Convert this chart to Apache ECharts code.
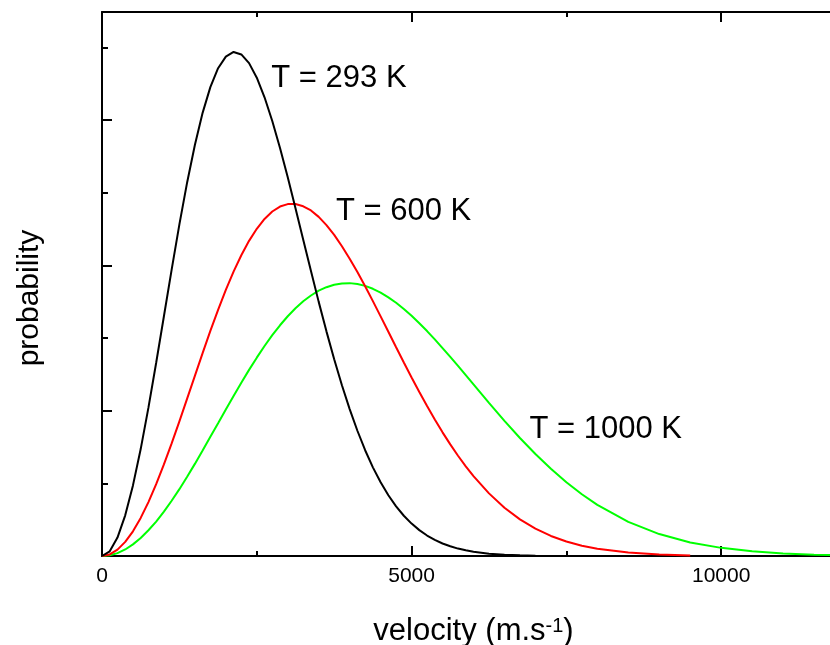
<!DOCTYPE html>
<html>
<head>
<meta charset="utf-8">
<script src="https://cdn.jsdelivr.net/npm/echarts@6/dist/echarts.min.js"></script>
<style>
  html, body { margin: 0; padding: 0; background: #ffffff; }
  #chart { width: 830px; height: 645px; }
</style>
</head>
<body>
<div id="chart"></div>
<script>
// Molecular speed distributions at three temperatures (arbitrary probability units)
const velocity = [
  0, 125, 250, 375, 500, 625, 750, 875, 1000, 1125, 1250, 1375, 1500, 1625, 1750, 1875,
  2000, 2125, 2250, 2375, 2500, 2625, 2750, 2875, 3000, 3125, 3250, 3375, 3500, 3625, 3750, 3875,
  4000, 4125, 4250, 4375, 4500, 4625, 4750, 4875, 5000, 5125, 5250, 5375, 5500, 5625, 5750, 5875,
  6000, 6250, 6500, 6750, 7000, 7250, 7500, 7750, 8000,
  8500, 9000, 9500, 10000, 10500, 11000, 11500, 12000
];
const prob293 = [
  0, 0.032, 0.127, 0.280, 0.486, 0.736, 1.021, 1.330, 1.650, 1.971, 2.282, 2.571, 2.829, 3.050, 3.227, 3.357,
  3.437, 3.469, 3.452, 3.392, 3.292, 3.157, 2.994, 2.808, 2.606, 2.394, 2.177, 1.961, 1.749, 1.546, 1.354, 1.175,
  1.011, 0.862, 0.728, 0.610, 0.507, 0.418, 0.342, 0.277, 0.223, 0.178, 0.141, 0.111, 0.086, 0.067, 0.051, 0.039,
  0.029, 0.016, 0.009, 0.005, 0.002
];
const prob600 = [
  0, 0.011, 0.044, 0.097, 0.170, 0.262, 0.371, 0.494, 0.630, 0.775, 0.927, 1.083, 1.240, 1.396, 1.549, 1.694,
  1.831, 1.957, 2.070, 2.169, 2.252, 2.320, 2.371, 2.405, 2.422, 2.422, 2.407, 2.378, 2.334, 2.277, 2.210, 2.132,
  2.046, 1.954, 1.856, 1.754, 1.649, 1.543, 1.437, 1.332, 1.229, 1.129, 1.032, 0.940, 0.851, 0.768, 0.690, 0.617,
  0.550, 0.431, 0.332, 0.252, 0.188, 0.138, 0.100, 0.071, 0.050,
  0.024, 0.010, 0.004
];
const prob1000 = [
  0, 0.005, 0.020, 0.045, 0.080, 0.124, 0.177, 0.237, 0.305, 0.380, 0.460, 0.545, 0.634, 0.726, 0.820, 0.914,
  1.009, 1.102, 1.193, 1.281, 1.365, 1.445, 1.520, 1.588, 1.650, 1.705, 1.753, 1.793, 1.826, 1.850, 1.867, 1.876,
  1.878, 1.872, 1.859, 1.839, 1.813, 1.780, 1.743, 1.700, 1.653, 1.602, 1.548, 1.491, 1.431, 1.370, 1.308, 1.245,
  1.181, 1.054, 0.930, 0.812, 0.702, 0.600, 0.508, 0.425, 0.352,
  0.235, 0.151, 0.093, 0.056, 0.032, 0.018, 0.009, 0.005
];
const curveNames = ['T = 293 K', 'T = 600 K', 'T = 1000 K'];
// where each temperature tag starts, in data units [velocity, probability]
const tagAnchors = [[2734, 3.290], [3779, 2.374], [6904, 0.870]];

const FONT = "'Liberation Sans', Arial, Helvetica, sans-serif";
const X_MIN = 0, X_MAX = 12000;
const Y_MIN = 0, Y_MAX = 3.744;

function pairs(values) {
  return values.map((p, i) => [velocity[i], p]);
}

function xLayer(position, interval, tickLen, withLine, withLabels, extra) {
  return Object.assign({
    type: 'value', position: position, min: X_MIN, max: X_MAX, interval: interval,
    axisLine: { show: withLine, onZero: false, lineStyle: { color: '#000', width: 2 } },
    axisTick: { show: true, inside: true, length: tickLen, lineStyle: { color: '#000', width: 2 } },
    axisLabel: withLabels
      ? { show: true, fontSize: 21, color: '#000', fontFamily: FONT, margin: 10,
          showMaxLabel: false, formatter: (v) => String(v) }
      : { show: false },
    splitLine: { show: false }
  }, extra || {});
}

function yLayer(interval, tickLen, withLine, extra) {
  return Object.assign({
    type: 'value', position: 'left', min: Y_MIN, max: Y_MAX, interval: interval,
    axisLine: { show: withLine, onZero: false, lineStyle: { color: '#000', width: 2 } },
    axisTick: { show: true, inside: true, length: tickLen, lineStyle: { color: '#000', width: 2 } },
    axisLabel: { show: false },
    splitLine: { show: false }
  }, extra || {});
}

function curve(name, values, color) {
  return {
    name: name,
    type: 'line',
    xAxisIndex: 0,
    yAxisIndex: 0,
    data: pairs(values),
    showSymbol: false,
    smooth: false,
    silent: true,
    lineStyle: { color: color, width: 2 }
  };
}

const chart = echarts.init(document.getElementById('chart'), null, { renderer: 'canvas' });
chart.setOption({
  animation: false,
  backgroundColor: '#ffffff',
  grid: {
    left: 102, top: 12, bottom: 89, right: -15,
    containLabel: false, outerBoundsMode: 'none'
  },
  xAxis: [
    xLayer('bottom', 5000, 10, true, true, {
      name: 'velocity (m.s{sup|-1})',
      nameLocation: 'middle',
      nameGap: 60,
      nameTextStyle: {
        fontSize: 31, color: '#000', fontFamily: FONT,
        rich: { sup: { fontSize: 20, color: '#000', fontFamily: FONT, verticalAlign: 'top' } }
      }
    }),
    xLayer('bottom', 2500, 5, false, false),
    xLayer('top', 5000, 10, true, false),
    xLayer('top', 2500, 5, false, false)
  ],
  yAxis: [
    yLayer(1, 10, true, {
      name: 'probability',
      nameLocation: 'middle',
      nameGap: 57,
      nameTextStyle: { fontSize: 30, color: '#000', fontFamily: FONT, padding: [0, 28, 0, 0] }
    }),
    yLayer(0.5, 6, false)
  ],
  series: [
    curve('1000 K', prob1000, '#00ff00'),
    curve('600 K', prob600, '#ff0000'),
    curve('293 K', prob293, '#000000')
  ]
});

// temperature tags, placed through the chart's own coordinate system
chart.setOption({
  graphic: tagAnchors.map((anchor, i) => {
    const p = chart.convertToPixel({ seriesIndex: 0 }, anchor);
    return {
      type: 'text', x: p[0], y: p[1], silent: true,
      style: {
        text: curveNames[i], fill: '#000', fontSize: 31, fontFamily: FONT,
        align: 'left', verticalAlign: 'middle'
      }
    };
  })
});
</script>
</body>
</html>
